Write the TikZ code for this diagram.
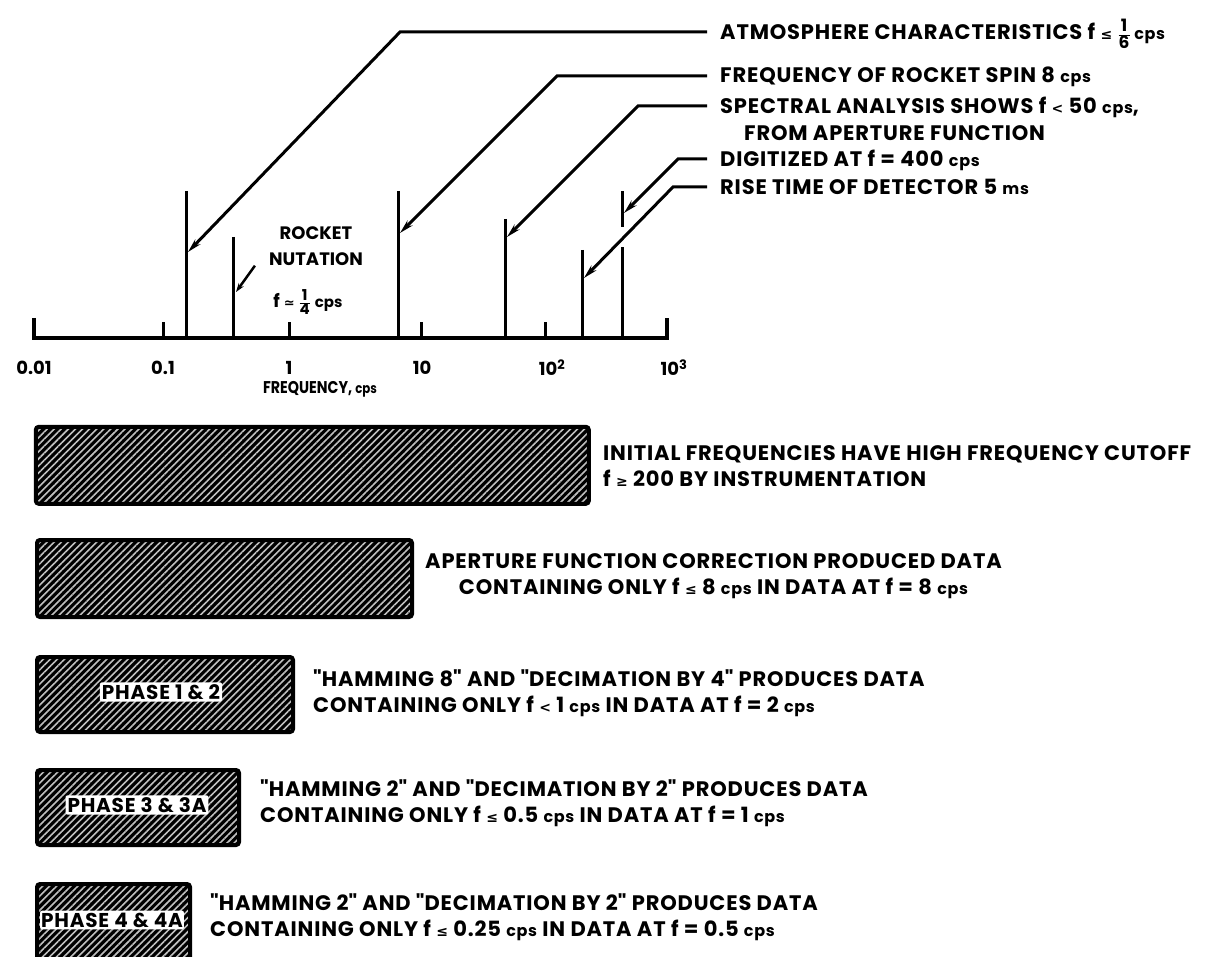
\documentclass[tikz,border=0pt]{standalone}
\usepackage{fontspec}
\setmainfont{Poppins}[LetterSpace=4]
\newfontfamily\plainf{Poppins}
\newfontfamily\condf{Poppins}[FakeStretch=0.84]
\newfontfamily\symf{DejaVu Sans}
\usetikzlibrary{patterns.meta,arrows.meta}
\newcommand\unitcps{{\fontsize{16}{16}\selectfont cps}}
\newcommand\unitms{{\fontsize{16}{16}\selectfont ms}}
\newcommand\lesym{{\symf\fontsize{14}{14}\selectfont ≤}}
\newcommand\gesym{{\symf\fontsize{14}{14}\selectfont ≥}}
\newcommand\ltsym{{\symf\fontsize{14}{14}\selectfont <}}
\newcommand\apsym{{\symf\fontsize{13}{13}\selectfont ≃}}
\newcommand\qq{\textquotedbl}
\newcommand\myfrac[3]{\ensuremath{\frac{\mbox{\bfseries\fontsize{#3}{#3}\selectfont #1}}{\mbox{\bfseries\fontsize{#3}{#3}\selectfont #2}}}}
\begin{document}
\begin{tikzpicture}[x=1pt,y=-1pt,
  lbl/.style={font=\bfseries\fontsize{21}{26}\selectfont, inner sep=0pt},
  sml/.style={font=\plainf\bfseries\fontsize{18}{26}\selectfont, inner sep=0pt},
  spike/.style={line width=3pt},
  leader/.style={line width=3pt, line join=miter, -{Stealth[length=14pt,width=7pt]}},
  bar/.style={draw, line width=4pt, rounded corners=3pt, inner sep=0pt,
    preaction={fill=black}, pattern={Lines[angle=45,distance=5pt,line width=1.6pt]},
    pattern color=white!75!black, anchor=north west},
  phase/.style={fill=white, inner sep=2pt, rounded corners=2pt, font=\bfseries\fontsize{20}{20}\selectfont}]
\useasboundingbox (0,0) rectangle (1211,957);
\clip (0,0) rectangle (1211,957);

% axis
\coordinate (a0) at (34,338);
\coordinate (a1) at (667,338);
\draw[line width=3.5pt, line join=miter] (34,318) -- (a0) -- (a1) -- (667,318);
\foreach \x in {163,289,421,545} \draw[line width=3pt] (\x,338) -- (\x,322);

% spikes
\coordinate (s1) at (186,191);
\coordinate (s2) at (233,237);
\coordinate (s3) at (398,191);
\coordinate (s4) at (505,219);
\coordinate (s5) at (582,250);
\coordinate (s6) at (622,191);
\foreach \s in {s1,s2,s3,s4,s5} \draw[spike] (\s) -- (\s |- a0);
\draw[spike] (s6 |- a0) -- (622,247);
\draw[spike] (622,227) -- (s6);

% axis labels
\node[sml] (l0) at (34,368) {0.01};
\node[sml] (l1) at (163,368) {0.1};
\node[sml] (l2) at (289,368) {1};
\node[sml] (l3) at (422,368) {10};
\node[sml] (l4) at (552,368) {10$^{\mbox{\plainf\bfseries\fontsize{13}{13}\selectfont 2}}$};
\node[sml] (l5) at (674,368) {10$^{\mbox{\plainf\bfseries\fontsize{13}{13}\selectfont 3}}$};
\node[sml, font=\condf\bfseries\fontsize{17}{17}\selectfont] (fq) at (320,389) {FREQUENCY, {\fontsize{14}{14}\selectfont cps}};

% nutation
\node[sml, align=center] (nut) at (316,246) {ROCKET\\NUTATION};
\node[sml] (nutf) at (308,302) {f \apsym\ \myfrac{1}{4}{15} {\fontsize{15}{15}\selectfont cps}};
\coordinate (t2) at (236,292);
\draw[line width=2.5pt, -{Stealth[length=9pt,width=6pt]}] ([xshift=-14pt]nut.south west) -- (t2);

% top labels
\node[lbl, anchor=base west] (atm) at (720,40) {ATMOSPHERE CHARACTERISTICS f \lesym\ \myfrac{1}{6}{17}\,\unitcps};
\node[lbl, anchor=base west] (spin) at (720,83) {FREQUENCY OF ROCKET SPIN 8 \unitcps};
\node[lbl, anchor=base west] (spec) at (720,114) {SPECTRAL ANALYSIS SHOWS f \ltsym\ 50 \unitcps,};
\node[lbl, anchor=base west] (spec2) at (744,141) {FROM APERTURE FUNCTION};
\node[lbl, anchor=base west] (dig) at (720,167) {DIGITIZED AT f = 400 \unitcps};
\node[lbl, anchor=base west] (rise) at (720,195) {RISE TIME OF DETECTOR 5 \unitms};

\coordinate (c1) at (400,32);  \coordinate (t1) at (188,252);
\coordinate (c3) at (557,76);  \coordinate (t3) at (400,233);
\coordinate (c4) at (638,106); \coordinate (t4) at (507,237);
\coordinate (c6) at (678,159); \coordinate (t6) at (624,213);
\coordinate (c5) at (673,187); \coordinate (t5) at (584,278);
\draw[leader] ([xshift=-13pt,yshift=8pt]atm.base west) -- (c1) -- (t1);
\draw[leader] ([xshift=-13pt,yshift=7pt]spin.base west) -- (c3) -- (t3);
\draw[leader] ([xshift=-13pt,yshift=8pt]spec.base west) -- (c4) -- (t4);
\draw[leader] ([xshift=-13pt,yshift=8pt]dig.base west) -- (c6) -- (t6);
\draw[leader] ([xshift=-13pt,yshift=8pt]rise.base west) -- (c5) -- (t5);

% bars
\node[bar, minimum width=553pt, minimum height=77pt] (b1) at (35,426) {};
\node[bar, minimum width=375pt, minimum height=77pt] (b2) at (35,538) {};
\node[bar, minimum width=256pt, minimum height=75pt] (b3) at (35,655) {};
\node[bar, minimum width=202pt, minimum height=75pt] (b4) at (35,768) {};
\node[bar, minimum width=153pt, minimum height=100pt] (b5) at (35,882) {};

\node[phase] (p1) at (161,692) {PHASE 1 \& 2};
\node[phase] (p2) at (137,805) {PHASE 3 \& 3A};
\node[phase, inner xsep=1pt] (p3) at (112,920) {PHASE 4 \& 4A};

\node[lbl, anchor=west, align=left] (d1) at (603,466) {INITIAL FREQUENCIES HAVE HIGH FREQUENCY CUTOFF\\f \gesym\ 200 BY INSTRUMENTATION};
\node[lbl, anchor=west, align=center] (d2) at (425,576) {APERTURE FUNCTION CORRECTION PRODUCED DATA\\CONTAINING ONLY f \lesym\ 8 \unitcps\ IN DATA AT f = 8 \unitcps};
\node[lbl, anchor=west, align=left] (d3) at (313,693) {\qq HAMMING 8\qq\ AND \qq DECIMATION BY 4\qq\ PRODUCES DATA\\CONTAINING ONLY f \ltsym\ 1 \unitcps\ IN DATA AT f = 2 \unitcps};
\node[lbl, anchor=west, align=left] (d4) at (260,803) {\qq HAMMING 2\qq\ AND \qq DECIMATION BY 2\qq\ PRODUCES DATA\\CONTAINING ONLY f \lesym\ 0.5 \unitcps\ IN DATA AT f = 1 \unitcps};
\node[lbl, anchor=west, align=left] (d5) at (210,917) {\qq HAMMING 2\qq\ AND \qq DECIMATION BY 2\qq\ PRODUCES DATA\\CONTAINING ONLY f \lesym\ 0.25 \unitcps\ IN DATA AT f = 0.5 \unitcps};
\end{tikzpicture}
\end{document}
